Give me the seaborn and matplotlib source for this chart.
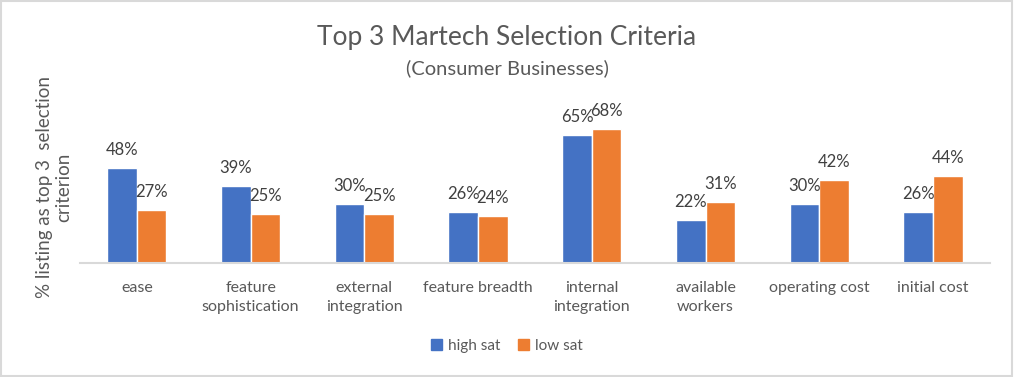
import matplotlib
matplotlib.use("Agg")
import matplotlib.pyplot as plt
import seaborn as sns
import pandas as pd
from matplotlib.patches import Rectangle

categories = ["ease", "feature\nsophistication", "external\nintegration", "feature breadth",
              "internal\nintegration", "available\nworkers", "operating cost", "initial cost"]
high_sat = [48, 39, 30, 26, 65, 22, 30, 26]
low_sat = [27, 25, 25, 24, 68, 31, 42, 44]
series = ["high sat", "low sat"]
colors = ["#4472C4", "#ED7D31"]

df = pd.DataFrame({
    "category": categories * 2,
    "value": high_sat + low_sat,
    "series": [series[0]] * len(categories) + [series[1]] * len(categories),
})

sns.set_theme(style="white")
plt.rcParams["font.family"] = ["Lato", "DejaVu Sans"]

fig = plt.figure(figsize=(10.14, 3.77), dpi=100)
ax = fig.add_axes([0.0789, 0.3024, 0.8973, 0.419])

sns.barplot(data=df, x="category", y="value", hue="series", palette=colors,
            width=0.52, ax=ax, legend=False, saturation=1, errorbar=None)

for cont in ax.containers:
    ax.bar_label(cont, labels=[f"{v:.0f}%" for v in cont.datavalues], padding=7,
                 fontsize=12, color="#404040")

ax.set_ylim(0, 80)
ax.set_yticks([])
ax.set_xlim(-0.5, len(categories) - 0.5)
for s in ["top", "right", "left"]:
    ax.spines[s].set_visible(False)
ax.spines["bottom"].set_color("#d9d9d9")
ax.spines["bottom"].set_linewidth(1.5)
ax.tick_params(axis="x", length=0, pad=13, labelsize=11.5, labelcolor="#595959")
for t in ax.get_xticklabels():
    t.set_linespacing(1.45)
ax.set_xlabel("")
ax.set_ylabel("% listing as top 3  selection\ncriterion", fontsize=13.5, color="#595959")
ax.yaxis.set_label_coords(-0.008, 0.48)

fig.text(0.5, 0.90, "Top 3 Martech Selection Criteria", ha="center", va="center",
         fontsize=19, color="#595959")
fig.text(0.5, 0.818, "(Consumer Businesses)", ha="center", va="center",
         fontsize=14.5, color="#595959")

handles = [Rectangle((0, 0), 1, 1, color=c) for c in colors]
fig.legend(handles, series, loc="center", bbox_to_anchor=(0.5, 0.082), ncol=2,
           frameon=False, fontsize=11, labelcolor="#595959", handlelength=0.7,
           handleheight=0.7, handletextpad=0.4, columnspacing=1.2)

fig.patches.append(Rectangle((0.001, 0.002), 0.997, 0.995, transform=fig.transFigure,
                             fill=False, edgecolor="#d9d9d9", linewidth=1.5))

fig.savefig("out.png", dpi=100)
